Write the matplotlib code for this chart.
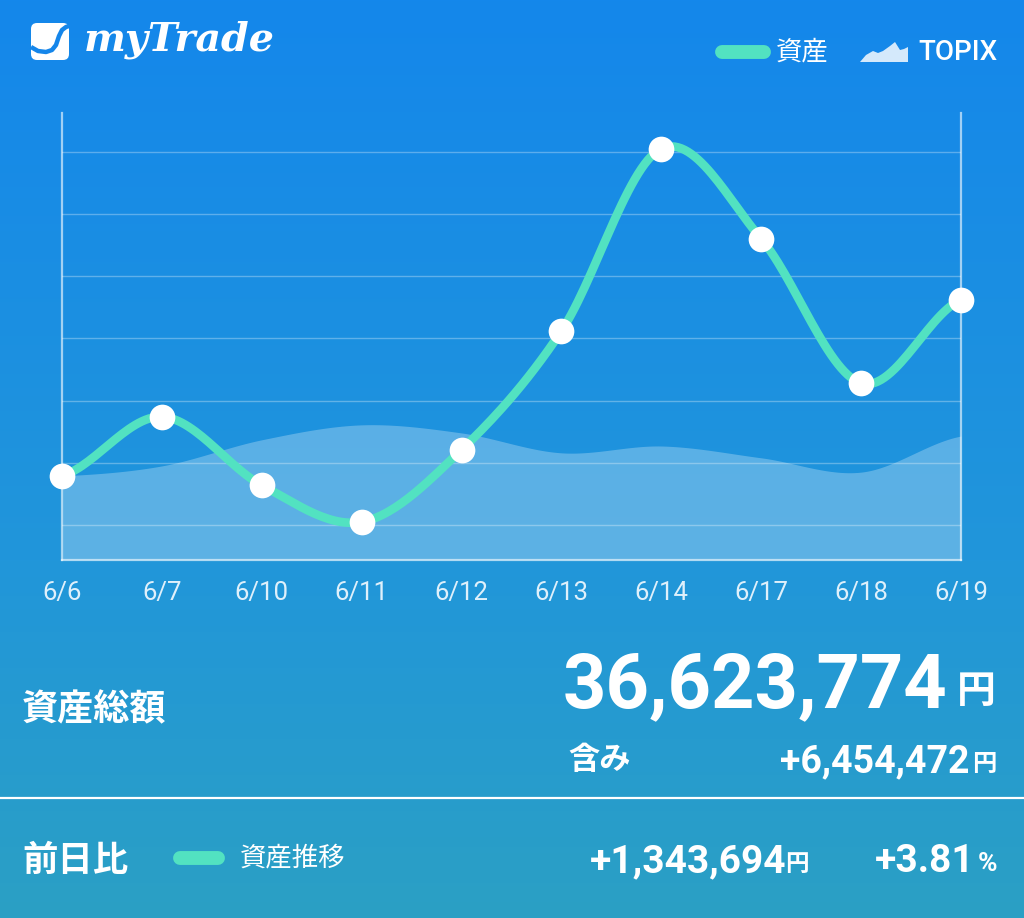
import matplotlib
matplotlib.use("Agg")
import matplotlib.pyplot as plt
import numpy as np
from matplotlib.patches import FancyBboxPatch, Polygon

# Data
dates = ["6/6", "6/7", "6/10", "6/11", "6/12", "6/13", "6/14", "6/17", "6/18", "6/19"]
assets = [1.79, 2.74, 1.64, 1.05, 2.21, 4.12, 7.05, 5.60, 3.28, 4.62]
topix = [1.79, 1.95, 2.37, 2.61, 2.48, 2.16, 2.27, 2.08, 1.85, 2.43]
gridlines = [1, 2, 3, 4, 5, 6, 7]

total_value = "36,623,774"
unrealized = "+6,454,472"
day_change = "+1,343,694"
day_change_pct = "+3.81"

W, H = 1024, 918
MINT = "#52e2c1"
CJK = ["Noto Sans CJK JP", "DejaVu Sans"]
NUM = ["Roboto", "Noto Sans CJK JP", "DejaVu Sans"]


def smooth(x, y, steps=30):
    # Catmull-Rom curve through the points, for drawing only
    x = np.asarray(x, float)
    y = np.asarray(y, float)
    px = np.concatenate([[2 * x[0] - x[1]], x, [2 * x[-1] - x[-2]]])
    py = np.concatenate([[y[0]], y, [y[-1]]])
    xs, ys = [], []
    t = np.linspace(0, 1, steps, endpoint=False)
    for i in range(1, len(px) - 2):
        for arr, out in ((px, xs), (py, ys)):
            p0, p1, p2, p3 = arr[i - 1], arr[i], arr[i + 1], arr[i + 2]
            out.append(0.5 * (2 * p1 + (-p0 + p2) * t
                              + (2 * p0 - 5 * p1 + 4 * p2 - p3) * t ** 2
                              + (-p0 + 3 * p1 - 3 * p2 + p3) * t ** 3))
    xs.append([x[-1]])
    ys.append([y[-1]])
    return np.concatenate(xs), np.concatenate(ys)


fig = plt.figure(figsize=(W / 100, H / 100), dpi=100)

# background gradient
bg = fig.add_axes([0, 0, 1, 1], zorder=0)
stops_y = [0, 560, 918]
stops_c = np.array([[20, 135, 235], [33, 150, 218], [43, 160, 196]]) / 255
rows = np.arange(H)
grad = np.stack([np.interp(rows, stops_y, stops_c[:, k]) for k in range(3)], axis=-1)
bg.imshow(grad[:, None, :], aspect="auto", extent=[0, W, H, 0])
bg.set_xlim(0, W)
bg.set_ylim(H, 0)
bg.axis("off")

# chart
left, right, top, bottom = 62, 961, 113, 560
ax = fig.add_axes([left / W, 1 - bottom / H, (right - left) / W, (bottom - top) / H], zorder=2)
ax.patch.set_alpha(0)
x = np.arange(len(dates))
ax.set_xlim(0, len(dates) - 1)
ax.set_ylim(1 - 35 / 62.2, 1 + (525 - 113) / 62.2)

for g in gridlines:
    ax.axhline(g, color="white", alpha=0.3, lw=1.0, zorder=1)

tx, ty = smooth(x, topix)
ax.fill_between(tx, ty, ax.get_ylim()[0], color="white", alpha=0.27, lw=0, zorder=2)

ax_, ay_ = smooth(x, assets)
ax.plot(ax_, ay_, color=MINT, lw=6.2, solid_capstyle="round", zorder=3, clip_on=False)
ax.plot(x, assets, "o", color="white", ms=18.5, mec="none", zorder=4, clip_on=False)

ax.spines["top"].set_visible(False)
for s in ["left", "right", "bottom"]:
    ax.spines[s].set_color((1, 1, 1, 0.6))
    ax.spines[s].set_linewidth(1.6)
ax.set_yticks([])
ax.set_xticks(x)
ax.set_xticklabels(dates, fontsize=18.5, color="#dff0fb", family=NUM)
ax.tick_params(axis="x", length=0, pad=15)

# overlay in pixel coordinates for header / footer
ov = fig.add_axes([0, 0, 1, 1], zorder=3)
ov.set_xlim(0, W)
ov.set_ylim(H, 0)
ov.axis("off")

# logo
ov.add_patch(FancyBboxPatch((31, 23), 38, 37, boxstyle="round,pad=0,rounding_size=6",
                            fc="white", ec="none"))
ov.plot([31, 38, 46, 52, 56, 59, 62, 66, 69],
        [47, 51, 52, 50, 45, 36, 30, 27, 26], color="#1586ea", lw=3.2,
        solid_capstyle="butt")
ov.text(84, 40, "myTrade", fontsize=28.5, color="white", family="DejaVu Serif",
        weight="bold", style="italic", va="center", ha="left")

# legend
ov.plot([722, 764], [52, 52], color=MINT, lw=10, solid_capstyle="round")
ov.text(776, 52, "資産", fontsize=19, color="white", family=CJK, va="center", ha="left")
ov.add_patch(Polygon([(860, 62), (866, 55), (873, 51), (878, 53), (883, 51), (890, 46),
                      (895, 42), (900, 50), (904, 49), (908, 47), (908, 62)],
                     closed=True, fc="#d4e9fb", ec="none"))
ov.text(918, 52, "TOPIX", fontsize=20, color="white", family=NUM, weight="medium",
        va="center", ha="left")

# total
ov.text(22, 710, "資産総額", fontsize=26, color="white", family=CJK, weight="bold",
        va="center", ha="left")
ov.text(947, 707, total_value, fontsize=54.5, color="white", family=NUM, weight="bold",
        va="baseline", ha="right")
ov.text(996, 703, "円", fontsize=28, color="white", family=CJK, weight="bold",
        va="baseline", ha="right")
ov.text(568, 760, "含み", fontsize=22.5, color="white", family=CJK, weight="bold",
        va="center", ha="left")
ov.text(969, 772, unrealized, fontsize=27, color="white", family=NUM, weight="bold",
        va="baseline", ha="right")
ov.text(996, 771, "円", fontsize=17.5, color="white", family=CJK, weight="bold",
        va="baseline", ha="right")

ov.plot([0, W], [798, 798], color="white", lw=1.6)

# day change
ov.text(22, 860, "前日比", fontsize=25.5, color="white", family=CJK, weight="bold",
        va="center", ha="left")
ov.plot([180, 218], [858, 858], color=MINT, lw=10, solid_capstyle="round")
ov.text(240, 858, "資産推移", fontsize=19, color="white", family=CJK, va="center", ha="left")
ov.text(786, 872, day_change, fontsize=28, color="white", family=NUM, weight="bold",
        va="baseline", ha="right")
ov.text(809, 871, "円", fontsize=17, color="white", family=CJK, weight="bold",
        va="baseline", ha="right")
ov.text(975, 872, day_change_pct, fontsize=28, color="white", family=NUM, weight="bold",
        va="baseline", ha="right")
ov.text(997, 871, "%", fontsize=19, color="white", family=NUM, weight="bold",
        va="baseline", ha="right")

fig.savefig("out.png", dpi=100)
